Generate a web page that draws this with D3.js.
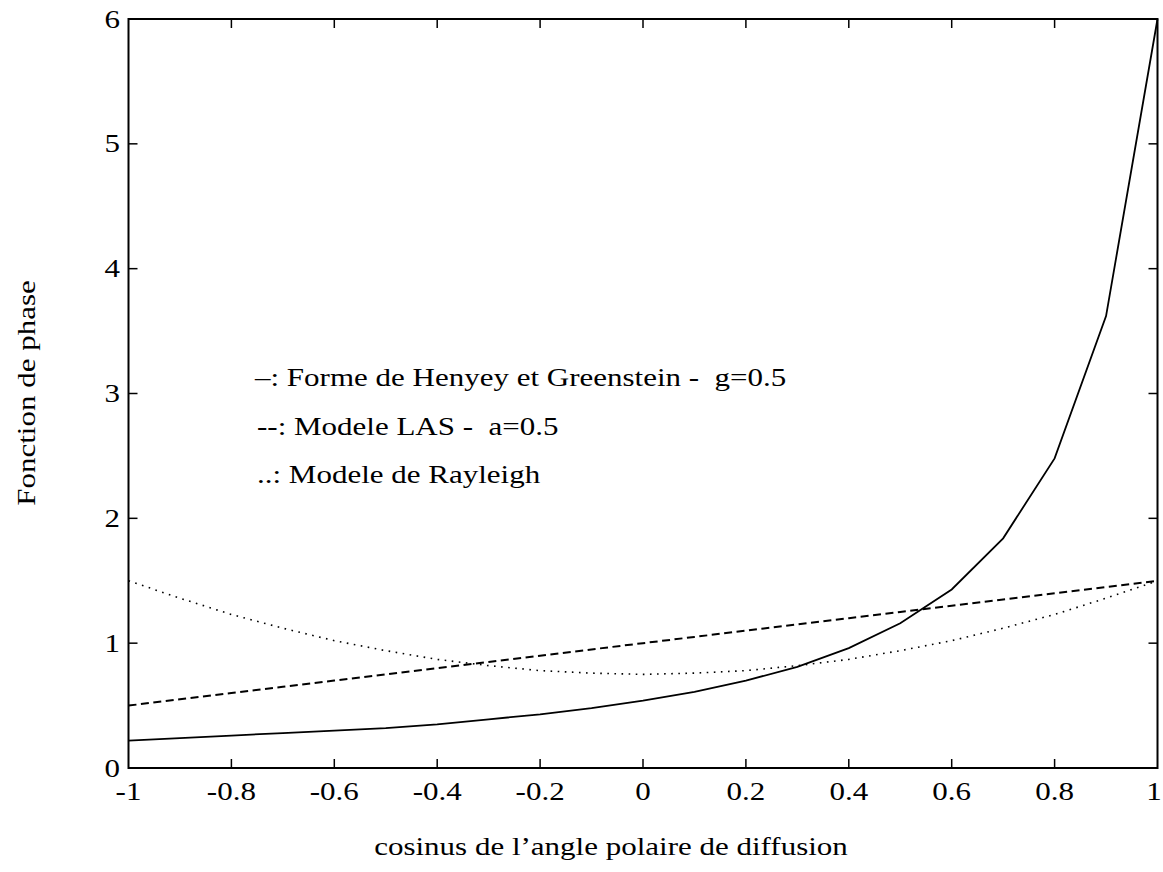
<!DOCTYPE html>
<html><head><meta charset="utf-8">
<script src="https://cdn.jsdelivr.net/npm/d3@7"></script>
<style>body{margin:0;background:#fff}svg{display:block}</style>
</head><body><svg id="c" width="1163" height="872"></svg>
<script>
const mu = [-1,-0.9,-0.8,-0.7,-0.6,-0.5,-0.4,-0.3,-0.2,-0.1,0,0.1,0.2,0.3,0.4,0.5,0.6,0.7,0.8,0.9,1];
const henyeyGreenstein = [0.22,0.24,0.26,0.28,0.30,0.32,0.35,0.39,0.43,0.48,0.54,0.61,0.70,0.81,0.96,1.16,1.43,1.84,2.48,3.62,6.0];
const las = [0.5,0.55,0.6,0.65,0.7,0.75,0.8,0.85,0.9,0.95,1.0,1.05,1.1,1.15,1.2,1.25,1.3,1.35,1.4,1.45,1.5];
const rayleigh = [1.5,1.36,1.23,1.12,1.02,0.94,0.87,0.82,0.78,0.76,0.75,0.76,0.78,0.82,0.87,0.94,1.02,1.12,1.23,1.36,1.5];
const xTicks = [-1,-0.8,-0.6,-0.4,-0.2,0,0.2,0.4,0.6,0.8,1];
const xTickLabels = ["-1","-0.8","-0.6","-0.4","-0.2","0","0.2","0.4","0.6","0.8","1"];
const yTicks = [0,1,2,3,4,5,6];
const legendLines = ["\u2013: Forme de Henyey et Greenstein -  g=0.5","--: Modele LAS -  a=0.5","..: Modele de Rayleigh"];
const xTitle = "cosinus de l\u2019angle polaire de diffusion";
const yTitle = "Fonction de phase";

const svg = d3.select("#c");
const L=128.5, R=1157.5, T=19, B=768;
const x = d3.scaleLinear().domain([-1,1]).range([L,R]);
const y = d3.scaleLinear().domain([0,6]).range([B,T]);
const fs = 25, sx = 1.24;
const FF = "'Liberation Serif','Times New Roman',Times,serif";

function txt(sel){ return sel.attr("font-family",FF).attr("font-size",fs).attr("fill","#000"); }

const tk = 9;
const g = svg.append("g");
const inner = xTicks.filter(v=>v>-1&&v<1);
const innerY = yTicks.filter(v=>v>0&&v<6);
g.selectAll(".xb").data(inner).enter().append("line")
 .attr("x1",d=>x(d)).attr("x2",d=>x(d)).attr("y1",B).attr("y2",B-tk).attr("stroke","#000").attr("stroke-width",1.5);
g.selectAll(".xt").data(inner).enter().append("line")
 .attr("x1",d=>x(d)).attr("x2",d=>x(d)).attr("y1",T).attr("y2",T+tk).attr("stroke","#000").attr("stroke-width",1.5);
g.selectAll(".yl").data(innerY).enter().append("line")
 .attr("y1",d=>y(d)).attr("y2",d=>y(d)).attr("x1",L).attr("x2",L+tk).attr("stroke","#000").attr("stroke-width",1.5);
g.selectAll(".yr").data(innerY).enter().append("line")
 .attr("y1",d=>y(d)).attr("y2",d=>y(d)).attr("x1",R).attr("x2",R-tk).attr("stroke","#000").attr("stroke-width",1.5);

txt(g.selectAll(".xl").data(xTicks).enter().append("text"))
 .attr("transform",d=>`translate(${Math.min(x(d),1154)},800) scale(${sx},1)`).attr("text-anchor","middle")
 .text((d,i)=>xTickLabels[i]);
txt(g.selectAll(".ylab").data(yTicks).enter().append("text"))
 .attr("transform",d=>`translate(120,${y(d)+8.5}) scale(${sx},1)`).attr("text-anchor","end")
 .text(d=>d);

const line = d3.line().x((d,i)=>x(mu[i])).y(d=>y(d));
svg.append("path").attr("d",line(rayleigh)).attr("fill","none").attr("stroke","#000")
 .attr("stroke-width",1.6).attr("stroke-dasharray","1.6,5.5");
svg.append("path").attr("d",line(las)).attr("fill","none").attr("stroke","#000")
 .attr("stroke-width",2).attr("stroke-dasharray","8,4.5");
svg.append("path").attr("d",line(henyeyGreenstein)).attr("fill","none").attr("stroke","#000")
 .attr("stroke-width",1.8);

svg.append("rect").attr("x",L).attr("y",T).attr("width",R-L).attr("height",B-T)
 .attr("fill","none").attr("stroke","#000").attr("stroke-width",2);

txt(svg.selectAll(".leg").data(legendLines).enter().append("text"))
 .attr("transform",(d,i)=>`translate(${i===0?255:257},${386+i*48.5}) scale(${sx},1)`)
 .style("white-space","pre").text(d=>d);

txt(svg.append("text")).attr("transform",`translate(611,855) scale(${sx},1)`).attr("text-anchor","middle").text(xTitle);
txt(svg.append("text")).attr("transform",`translate(35,393) rotate(-90) scale(${sx},1)`).attr("text-anchor","middle").text(yTitle);
</script></body></html>
